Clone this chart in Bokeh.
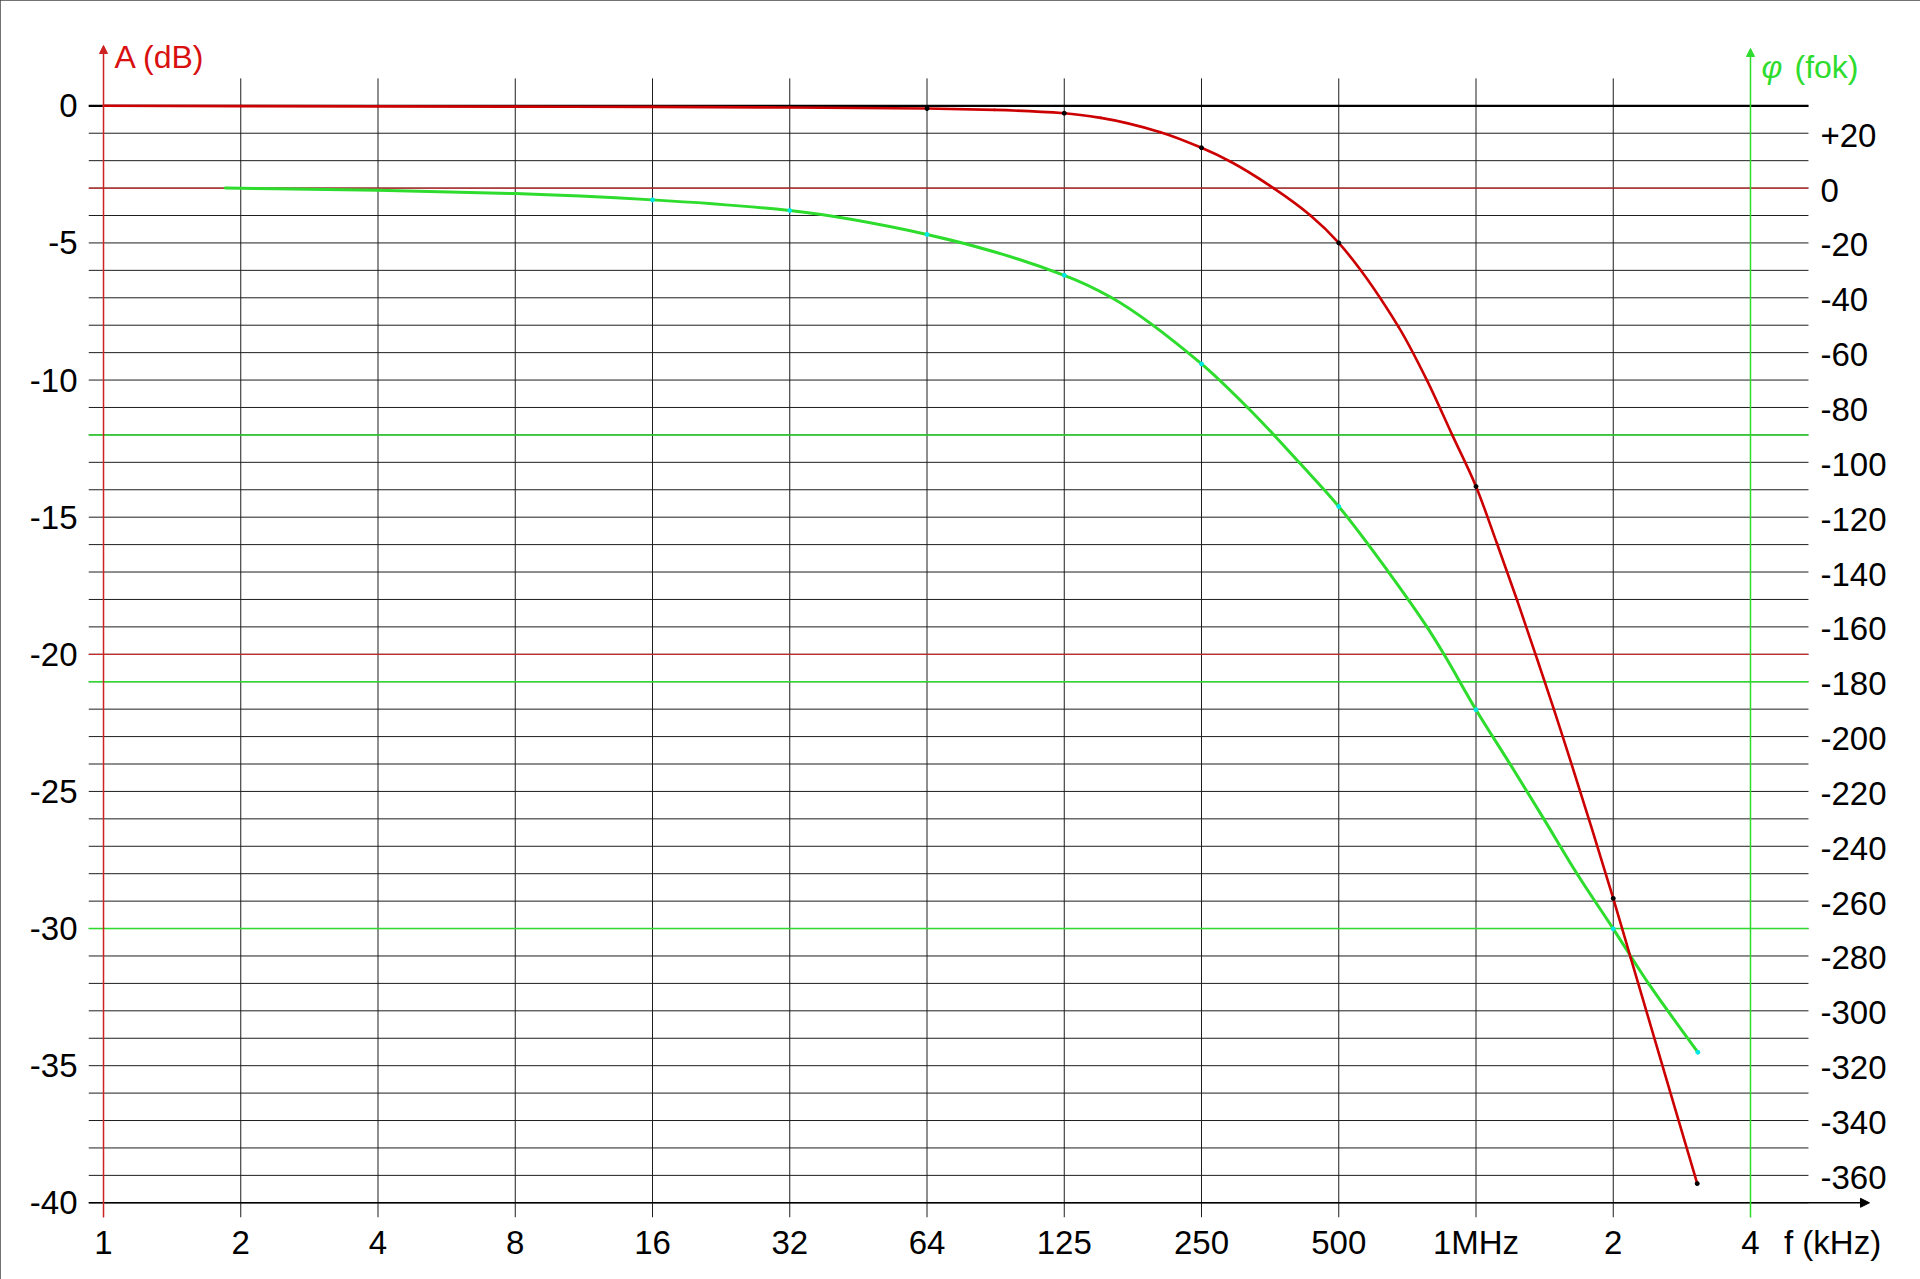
import math
from bokeh.plotting import figure
from bokeh.models import (Range1d, FixedTicker, Arrow, NormalHead, Label,
                          ColumnDataSource)
from bokeh.core.properties import value
from bokeh.embed import file_html
from bokeh.resources import INLINE

# ---------------- data ----------------
freq_ticks = [1, 2, 4, 8, 16, 32, 64, 128, 256, 512, 1024, 2048, 4096]
freq_labels = ["1", "2", "4", "8", "16", "32", "64", "125", "250", "500", "1MHz", "2", "4"]
freq_unit_pos = 6200
freq_unit_label = "f (kHz)"
db_ticks = [0, -5, -10, -15, -20, -25, -30, -35, -40]
db_grid = list(range(-40, 1))
phase_ticks = [20, 0, -20, -40, -60, -80, -100, -120, -140, -160, -180, -200,
               -220, -240, -260, -280, -300, -320, -340, -360]
phase_labels = ["+20"] + [str(t) for t in phase_ticks[1:]]

# amplitude (dB) vs frequency (kHz on the octave grid)
amp_freq = [1, 2, 4, 8, 16, 32, 64, 90, 128, 154, 208, 256, 296, 369, 444,
            512, 693, 800, 908, 1024, 1139, 1261, 1383, 1517, 2048, 2235,
            3130]
amp_db = [0.0, -0.01, -0.02, -0.03, -0.04, -0.06, -0.10, -0.15, -0.27, -0.44,
          -0.96, -1.53, -2.03, -3.01, -4.0, -5.0, -8.07, -10.02, -12.0,
          -13.88, -15.97, -18.04, -20.0, -22.0, -28.9, -31.05, -39.3]

# phase (degrees) vs frequency
phase_freq = [1.85, 4, 8, 16, 32, 64, 128, 162, 256, 323, 369, 419, 512,
              659, 800, 871, 1024, 1219, 1442, 1707, 2048, 2451, 3140]
phase_deg = [0.0, -0.8, -2.0, -4.3, -8.2, -16.9, -31.8, -39.8, -64.1,
             -80.0, -90.0, -100.0, -116.1, -140.1, -160.1, -170.0, -190.2,
             -210.3, -230.0, -250.1, -270.1, -290.2, -315.1]

red_ref_db = [-3, -20]
green_ref_deg = [-90, -180, -270]

# ---------------- styling ----------------
RED = "#cc0000"
RED_TXT = "#d81010"
GREEN = "#2edc2e"
GRID = "#1e1e1e"
FONT = "Liberation Sans"
FS = "33px"
TFS = "32px"

DB_LO, DB_HI = -40.536, 2.746          # frame bottom / top
X_LO, X_HI = 0.927, 9005.7             # frame left / right
GRID_X_END = 5489.0                    # where the horizontal grid stops
PHASE_LABEL_X = 5832.0
X_ARROW_END = 7470.0


def ph(db):
    return (db + 3.0) * 10.0


def smooth_segments(xs, ys):
    """Monotone cubic (Fritsch-Butland) through the points, in log2(x) space,
    returned as cubic Bezier segments for Bokeh's bezier glyph."""
    u = [math.log2(x) for x in xs]
    n = len(u)
    h = [u[i + 1] - u[i] for i in range(n - 1)]
    d = [(ys[i + 1] - ys[i]) / h[i] for i in range(n - 1)]
    m = [0.0] * n
    m[0], m[-1] = d[0], d[-1]
    for i in range(1, n - 1):
        if d[i - 1] * d[i] <= 0:
            m[i] = 0.0
        else:
            w1 = 2 * h[i] + h[i - 1]
            w2 = h[i] + 2 * h[i - 1]
            m[i] = (w1 + w2) / (w1 / d[i - 1] + w2 / d[i])
    seg = dict(x0=[], y0=[], x1=[], y1=[], cx0=[], cy0=[], cx1=[], cy1=[])
    for i in range(n - 1):
        seg["x0"].append(xs[i]); seg["y0"].append(ys[i])
        seg["x1"].append(xs[i + 1]); seg["y1"].append(ys[i + 1])
        seg["cx0"].append(2 ** (u[i] + h[i] / 3)); seg["cy0"].append(ys[i] + m[i] * h[i] / 3)
        seg["cx1"].append(2 ** (u[i + 1] - h[i] / 3)); seg["cy1"].append(ys[i + 1] - m[i + 1] * h[i] / 3)
    return ColumnDataSource(seg)


p = figure(width=1920, height=1279, x_axis_type="log",
           x_range=Range1d(X_LO, X_HI), y_range=Range1d(DB_LO, DB_HI),
           output_backend="svg", toolbar_location=None,
           min_border_left=88, min_border_right=14,
           min_border_top=30, min_border_bottom=62)
p.styles = {"outline": "2px solid #454545", "outline-offset": "-2px"}
p.outline_line_color = None
p.background_fill_color = "white"
p.border_fill_color = "white"
p.extra_y_ranges = {"phase": Range1d(ph(DB_LO), ph(DB_HI))}

# bottom axis (frequency)
xa = p.below[0]
xa.ticker = FixedTicker(ticks=freq_ticks + [freq_unit_pos])
ov = {t: l for t, l in zip(freq_ticks, freq_labels)}
ov[freq_unit_pos] = freq_unit_label
xa.major_label_overrides = ov
# left axis (dB)
ya = p.left[0]
ya.ticker = FixedTicker(ticks=db_ticks)
ya.major_label_overrides = {t: str(t) for t in db_ticks}

for ax, so in ((xa, 0), (ya, 5)):
    ax.axis_line_color = None
    ax.major_tick_line_color = None
    ax.minor_tick_line_color = None
    ax.major_label_text_font = FONT
    ax.major_label_text_font_size = FS
    ax.major_label_text_color = "black"
    ax.major_label_standoff = so

p.xgrid.visible = False
p.ygrid.visible = False

# horizontal grid lines (every dB)
n = len(db_grid)
p.segment(x0=[X_LO] * n, y0=db_grid, x1=[GRID_X_END] * n, y1=db_grid,
          line_color=GRID, line_width=1, level="underlay")
# vertical grid lines (from +1 dB down below the x axis)
m = len(freq_ticks)
p.segment(x0=freq_ticks, y0=[1.0] * m, x1=freq_ticks, y1=[DB_LO] * m,
          line_color=GRID, line_width=1, level="underlay")

# special horizontal lines
p.segment(x0=[X_LO], y0=[0], x1=[GRID_X_END], y1=[0], line_color="black",
          line_width=2.2, level="underlay")
p.segment(x0=[X_LO] * 2, y0=red_ref_db, x1=[GRID_X_END] * 2, y1=red_ref_db,
          line_color="#c42a2a", line_width=1.2, level="underlay")
p.segment(x0=[X_LO] * 3, y0=green_ref_deg, x1=[GRID_X_END] * 3, y1=green_ref_deg,
          y_range_name="phase", line_color=GREEN, line_width=1.5, level="underlay")

# phase scale labels (right side)
p.text(x=[PHASE_LABEL_X] * len(phase_ticks), y=phase_ticks, text=phase_labels,
       y_range_name="phase", text_font=value(FONT), text_font_size=value(FS),
       text_color="black", text_align="left", text_baseline="middle", y_offset=2)

# axes with arrows
p.add_layout(Arrow(x_start=X_LO, y_start=-40, x_end=X_ARROW_END, y_end=-40,
                   line_color="black", line_width=1.5,
                   end=NormalHead(size=9, fill_color="black", line_color="black")))
p.add_layout(Arrow(x_start=1, y_start=DB_LO, x_end=1, y_end=2.2,
                   line_color="#cc2222", line_width=1.5,
                   end=NormalHead(size=8, fill_color="#cc2222", line_color="#cc2222")))
p.add_layout(Arrow(x_start=4096, y_start=DB_LO, x_end=4096, y_end=2.09,
                   line_color=GREEN, line_width=1.5,
                   end=NormalHead(size=8, fill_color=GREEN, line_color=GREEN)))

# curves (smooth, through the read points)
p.bezier(x0="x0", y0="y0", x1="x1", y1="y1", cx0="cx0", cy0="cy0", cx1="cx1",
         cy1="cy1", source=smooth_segments(phase_freq, phase_deg),
         y_range_name="phase", line_color=GREEN, line_width=3, line_cap="round")
p.bezier(x0="x0", y0="y0", x1="x1", y1="y1", cx0="cx0", cy0="cy0", cx1="cx1",
         cy1="cy1", source=smooth_segments(amp_freq, amp_db),
         line_color=RED, line_width=2.6, line_cap="round")

amp_nodes = set(freq_ticks[6:])
ph_nodes = set(freq_ticks[4:])
am_f = [f for f in amp_freq if f in amp_nodes] + [amp_freq[-1]]
am_a = [a for f, a in zip(amp_freq, amp_db) if f in amp_nodes] + [amp_db[-1]]
pm_f = [f for f in phase_freq if f in ph_nodes] + [phase_freq[-1]]
pm_p = [v for f, v in zip(phase_freq, phase_deg) if f in ph_nodes] + [phase_deg[-1]]
p.scatter(am_f, am_a, size=4, color="black")
p.scatter(pm_f, pm_p, y_range_name="phase", size=4, color="#00e6e6")

# axis titles
p.add_layout(Label(x=1, y=1.77, x_offset=11, text="A (dB)", text_font=FONT,
                   text_font_size=TFS, text_color=RED_TXT,
                   text_baseline="alphabetic", text_align="left"))
p.add_layout(Label(x=4096, y=1.42, x_offset=11, text="\u03c6", text_font=FONT,
                   text_font_style="italic", text_font_size=TFS,
                   text_color=GREEN, text_baseline="alphabetic", text_align="left"))
p.add_layout(Label(x=4096, y=1.42, x_offset=44, text="(fok)", text_font=FONT,
                   text_font_size=TFS, text_color=GREEN,
                   text_baseline="alphabetic", text_align="left"))

open("out.html", "w").write(file_html(p, INLINE))
